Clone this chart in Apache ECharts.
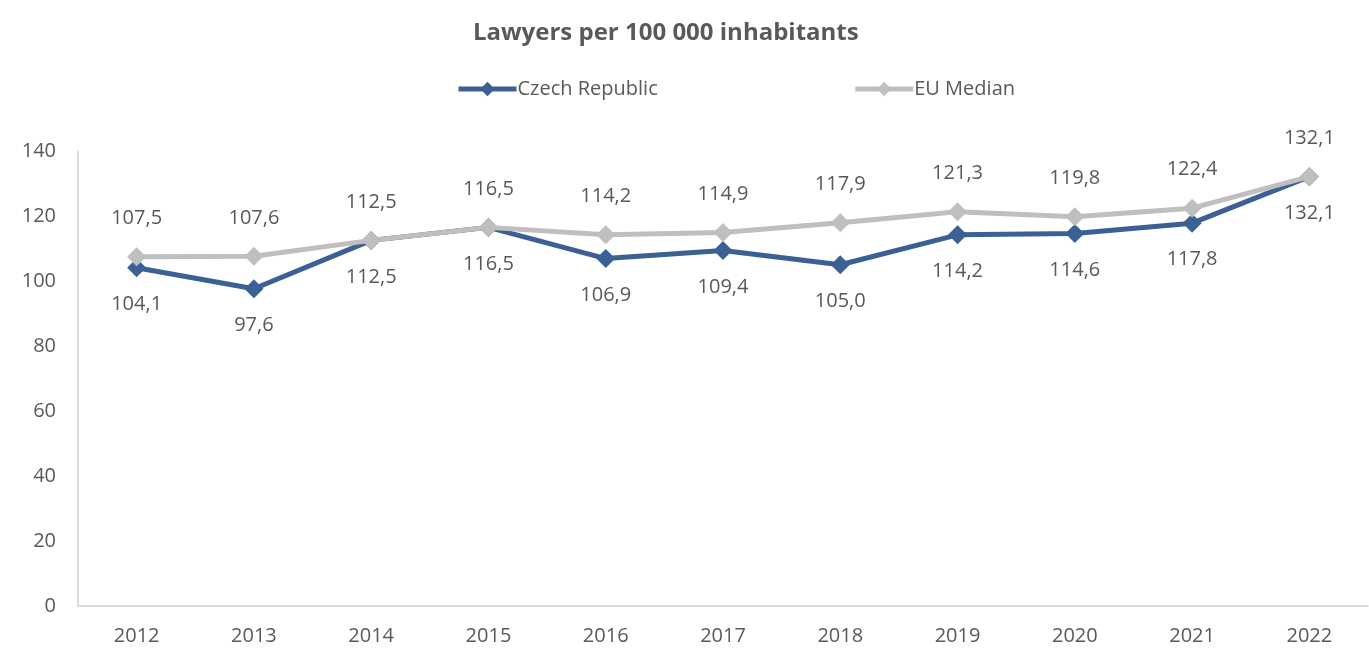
<!DOCTYPE html>
<html>
<head>
<meta charset="utf-8">
<script src="https://cdn.jsdelivr.net/npm/echarts@6/dist/echarts.min.js"></script>
<style>
  html, body { margin: 0; padding: 0; background: #fff; }
  #chart { width: 1369px; height: 652px; }
</style>
</head>
<body>
<div id="chart"></div>
<script>
  // Chart data
  var years = ['2012', '2013', '2014', '2015', '2016', '2017', '2018', '2019', '2020', '2021', '2022'];
  var czechRepublic = [104.1, 97.6, 112.5, 116.5, 106.9, 109.4, 105.0, 114.2, 114.6, 117.8, 132.1];
  var euMedian = [107.5, 107.6, 112.5, 116.5, 114.2, 114.9, 117.9, 121.3, 119.8, 122.4, 132.1];

  var font = '"Open Sans", "Noto Sans", sans-serif';
  var textColor = '#595959';

  function fmt(p) {
    return p.value.toFixed(1).replace('.', ',');
  }

  var chart = echarts.init(document.getElementById('chart'));
  chart.setOption({
    animation: false,
    textStyle: { fontFamily: font },
    title: {
      text: 'Lawyers per 100 000 inhabitants',
      left: 468,
      top: 16,
      textStyle: { fontFamily: font, fontSize: 24, fontWeight: 'bold', color: textColor }
    },
    legend: {
      top: 74,
      left: 451,
      itemGap: 195,
      itemWidth: 58,
      itemHeight: 18,
      lineStyle: { width: 5 },
      textStyle: { fontFamily: font, fontSize: 20, color: textColor, padding: [0, 0, 0, -4] },
      data: ['Czech Republic', 'EU Median']
    },
    grid: { left: 78, right: 1, top: 151, bottom: 46 },
    xAxis: {
      type: 'category',
      data: years,
      boundaryGap: true,
      axisLine: { lineStyle: { color: '#d0d0d0', width: 1.5 } },
      axisTick: { show: false },
      axisLabel: { fontFamily: font, fontSize: 20, color: textColor, margin: 20 }
    },
    yAxis: {
      type: 'value',
      min: 0,
      max: 140,
      interval: 20,
      splitLine: { show: false },
      axisLine: { show: true, lineStyle: { color: '#d0d0d0', width: 1.5 } },
      axisTick: { show: false },
      axisLabel: { fontFamily: font, fontSize: 20, color: textColor, margin: 22 }
    },
    series: [
      {
        name: 'Czech Republic',
        type: 'line',
        data: czechRepublic,
        z: 3,
        symbol: 'diamond',
        symbolSize: 19,
        lineStyle: { color: '#3a6094', width: 5 },
        itemStyle: { color: '#3a6094' },
        label: {
          show: true,
          position: 'bottom',
          distance: 17,
          formatter: fmt,
          fontFamily: font,
          fontSize: 20,
          color: textColor
        }
      },
      {
        name: 'EU Median',
        type: 'line',
        data: euMedian,
        z: 4,
        symbol: 'diamond',
        symbolSize: 19,
        lineStyle: { color: '#bfbfbf', width: 5 },
        itemStyle: { color: '#bfbfbf' },
        label: {
          show: true,
          position: 'top',
          distance: 19,
          formatter: fmt,
          fontFamily: font,
          fontSize: 20,
          color: textColor
        }
      }
    ]
  });
</script>
</body>
</html>
